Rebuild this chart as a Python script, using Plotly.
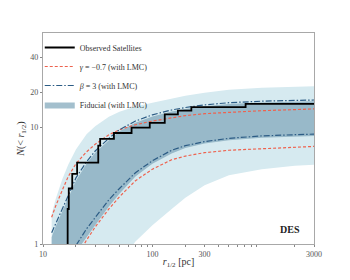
import math
import plotly.graph_objects as go

# ---- data ----
# observed satellites: half-light radii [pc] (cumulative count steps)
r_obs = [16.8, 16.8, 17.2, 18.5, 20.5, 32.0, 32.0, 33.3, 44.5, 64.5, 94.6,
         129.7, 129.7, 171.0, 227.0, 711.0]
n_obs = list(range(1, len(r_obs) + 1))

# model prediction grid [pc]
r_grid = [12, 13, 15, 17, 20, 25, 30, 40, 50, 70, 100, 150, 200, 300, 500, 1000, 2000, 3000]

light_lo = [0.1, 0.12, 0.15, 0.2, 0.25, 0.35, 0.42, 0.55, 0.7, 1.05, 1.45, 2.0, 2.5, 3.2, 3.9, 4.4, 4.7, 4.8]
light_hi = [1.8, 2.4, 3.6, 4.8, 6.5, 8.8, 10.3, 12.4, 13.7, 15.2, 16.4, 17.8, 18.8, 20.0, 21.2, 22.0, 22.5, 22.7]
fid_lo = [0.3, 0.35, 0.45, 0.6, 0.85, 1.15, 1.45, 2.1, 2.7, 3.8, 4.9, 6.0, 6.7, 7.3, 7.8, 8.2, 8.4, 8.5]
fid_hi = [1.15, 1.4, 1.9, 2.5, 3.5, 4.9, 6.1, 7.8, 9.3, 11.0, 12.5, 13.8, 14.5, 15.3, 16.0, 16.5, 16.8, 16.9]
gam_lo = [0.3, 0.35, 0.45, 0.55, 0.75, 1.08, 1.4, 2.0, 2.55, 3.5, 4.4, 5.3, 5.7, 6.1, 6.4, 6.6, 6.8, 6.9]
gam_hi = [1.7, 2.1, 2.9, 3.8, 4.9, 6.2, 7.2, 8.7, 9.6, 10.6, 11.4, 12.2, 12.7, 13.2, 13.6, 14.0, 14.3, 14.5]
beta_lo = [0.35, 0.42, 0.55, 0.7, 0.97, 1.35, 1.7, 2.4, 3.0, 4.1, 5.2, 6.4, 7.0, 7.6, 8.1, 8.5, 8.7, 8.8]
beta_hi = [1.25, 1.5, 2.0, 2.6, 3.7, 5.1, 6.3, 8.1, 9.6, 11.4, 12.9, 14.2, 14.9, 15.7, 16.4, 16.9, 17.2, 17.3]

x_ticks = [10, 100, 300, 3000]
x_minor = [20, 30, 40, 50, 60, 70, 80, 90, 200, 400, 500, 600, 700, 800, 900, 2000]
y_ticks = [1, 10, 20, 40]
x_max = 3000

# ---- style ----
RED = "rgb(238,98,78)"
BLUE = "rgb(44,92,133)"
LIGHT = "rgb(214,234,240)"
FID = "rgba(128,166,186,0.72)"
SERIF = "Liberation Serif, DejaVu Serif, serif"

fig = go.Figure()

x_steps = [r_obs[0]] + r_obs + [x_max]
y_steps = [0.5] + n_obs + [n_obs[-1]]

# light outer band
fig.add_trace(go.Scatter(x=r_grid, y=light_lo, mode="lines", line=dict(width=0),
                         showlegend=False, hoverinfo="skip"))
fig.add_trace(go.Scatter(x=r_grid, y=light_hi, mode="lines", line=dict(width=0),
                         fill="tonexty", fillcolor=LIGHT, showlegend=False, hoverinfo="skip"))
# fiducial band
fig.add_trace(go.Scatter(x=r_grid, y=fid_lo, mode="lines", line=dict(width=0),
                         showlegend=False, hoverinfo="skip"))
fig.add_trace(go.Scatter(x=r_grid, y=fid_hi, mode="lines", line=dict(width=0),
                         fill="tonexty", fillcolor=FID, name="Fiducial (with LMC)",
                         legendrank=4))

# gamma = -0.7 lines
fig.add_trace(go.Scatter(x=r_grid, y=gam_hi, mode="lines",
                         line=dict(color=RED, width=1.2, dash="3px,2px"),
                         name="<i>γ</i> = −0.7 (with LMC)", legendrank=2))
fig.add_trace(go.Scatter(x=r_grid, y=gam_lo, mode="lines",
                         line=dict(color=RED, width=1.2, dash="3px,2px"),
                         showlegend=False))
# beta = 3 lines
fig.add_trace(go.Scatter(x=r_grid, y=beta_hi, mode="lines",
                         line=dict(color=BLUE, width=1.2, dash="6px,2px,1.5px,2px"),
                         name="<i>β</i> = 3 (with LMC)", legendrank=3))
fig.add_trace(go.Scatter(x=r_grid, y=beta_lo, mode="lines",
                         line=dict(color=BLUE, width=1.2, dash="6px,2px,1.5px,2px"),
                         showlegend=False))

# observed staircase
fig.add_trace(go.Scatter(x=x_steps, y=y_steps, mode="lines", line_shape="hv",
                         line=dict(color="black", width=1.8),
                         name="Observed Satellites", legendrank=1))

fig.add_annotation(text="<b>DES</b>", xref="paper", yref="paper", x=0.955, y=0.07,
                   xanchor="right", yanchor="middle", showarrow=False,
                   font=dict(family=SERIF, size=10, color="#222"))

axis_common = dict(showline=True, linecolor="#a8a8a8", linewidth=1.2, mirror=True,
                   showgrid=False, zeroline=False, ticks="outside", ticklen=2,
                   tickcolor="#888", automargin=False,
                   tickfont=dict(family=SERIF, size=8, color="#555"))

fig.update_xaxes(type="log", range=[1, math.log10(x_max)], tickvals=x_ticks,
                 ticktext=[str(v) for v in x_ticks],
                 minor=dict(tickvals=x_minor, ticks="outside", ticklen=2, tickcolor="#888"),
                 title=dict(text="<i>r</i><sub>1/2</sub> [pc]", standoff=0,
                            font=dict(family=SERIF, size=10, color="#333")),
                 **axis_common)
fig.update_yaxes(type="log", range=[0, 1.814], tickvals=y_ticks,
                 ticktext=[str(v) for v in y_ticks],
                 title=dict(text="<i>N</i>(< <i>r</i><sub>1/2</sub>)", standoff=3,
                            font=dict(family=SERIF, size=10, color="#333")),
                 **axis_common)

# page body has an 8px default margin: compensate so the plot area lands at
# x 43..314, y 33..244 in the browser window
fig.update_layout(
    width=350, height=280,
    margin=dict(l=35, r=44, t=25, b=44, autoexpand=False),
    paper_bgcolor="white", plot_bgcolor="white",
    showlegend=True,
    legend=dict(x=-0.012, y=1.0, xanchor="left", yanchor="top", traceorder="normal",
                bgcolor="rgba(255,255,255,0)", borderwidth=0,
                itemwidth=30, font=dict(family=SERIF, size=8, color="#333"),
                tracegroupgap=0),
)

fig.write_html("out.html")
